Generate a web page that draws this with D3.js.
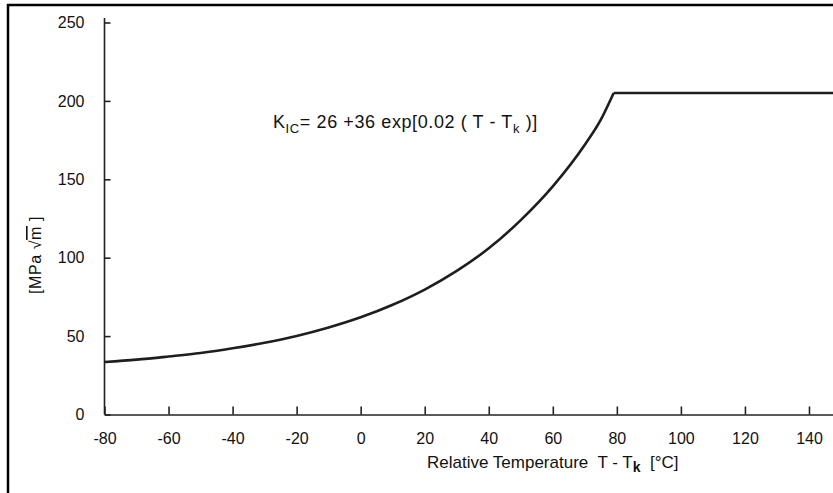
<!DOCTYPE html>
<html>
<head>
<meta charset="utf-8">
<script src="https://cdn.jsdelivr.net/npm/d3@7"></script>
<style>
  body { margin: 0; background: #fff; }
  svg { display: block; }
  text { font-family: "Liberation Sans", Arial, sans-serif; fill: #111; white-space: pre; }
</style>
</head>
<body>
<svg></svg>
<script>
// values (T - Tk in degC, KIC in MPa sqrt(m))
var temps = [-80, -70, -60, -50, -40, -30, -20, -10, 0, 10, 20, 30, 40, 50, 60, 70, 75, 79, 150]
var kic = [33.5, 35, 37, 39.2, 42.2, 45.8, 50.1, 55.5, 62, 70, 79.7, 91.6, 106, 124, 145.5, 172, 188, 205, 205]
var xTicks = [-80, -60, -40, -20, 0, 20, 40, 60, 80, 100, 120, 140]
var yTicks = [0, 50, 100, 150, 200, 250]
var kneeIndex = 17 // where the curve meets the flat upper shelf

var screen = {width: 833, height: 493}
var plot = {left: 104.5, right: 833, top: 18, bottom: 414.5}

var svg = d3.select("svg")
    .attr("width", screen.width)
    .attr("height", screen.height)

// frame of the scan (left and top only)
svg.append("line").attr("x1", 8).attr("x2", 8).attr("y1", 4).attr("y2", screen.height)
    .attr("stroke", "#000").attr("stroke-width", 2.5)
svg.append("line").attr("x1", 7).attr("x2", screen.width).attr("y1", 5).attr("y2", 5)
    .attr("stroke", "#000").attr("stroke-width", 2.5)

var xScale = d3.scaleLinear()
    .domain([-80, 147.5])
    .range([plot.left, plot.right])

var yScale = d3.scaleLinear()
    .domain([0, 250])
    .range([plot.bottom, 22.5])

var xAxis = d3.axisBottom(xScale)
    .tickValues(xTicks)
    .tickSizeInner(-8)
    .tickSizeOuter(0)
    .tickPadding(18)
    .tickFormat(function (d) { return String(d) })  // plain hyphen, not unicode minus

var yAxis = d3.axisLeft(yScale)
    .tickValues(yTicks)
    .tickSizeInner(-6)
    .tickSizeOuter(0)
    .tickPadding(20)

var gx = svg.append("g")
    .attr("transform", "translate(0," + plot.bottom + ")")
    .call(xAxis)

var gy = svg.append("g")
    .attr("transform", "translate(" + plot.left + ",0)")
    .call(yAxis)

// y axis line runs a bit above the top tick
gy.select(".domain").attr("d", "M0," + plot.top + "V" + plot.bottom)

svg.selectAll(".domain, .tick line")
    .attr("stroke", "#222")
    .attr("stroke-width", 1.6)
svg.selectAll(".tick text")
    .attr("font-size", 16)
    .attr("fill", "#111")
    .style("font-family", "'Liberation Sans', Arial, sans-serif")

// the curve: smooth part up to the knee, then straight shelf
var lineGenerator = d3.line()
    .x(function (d) { return xScale(temps[d]) })
    .y(function (d) { return yScale(kic[d]) })

var idx = d3.range(temps.length)
var curvePart = idx.slice(0, kneeIndex + 1)
var shelfPart = idx.slice(kneeIndex)

svg.append("path")
    .datum(curvePart)
    .attr("d", lineGenerator.curve(d3.curveMonotoneX))
    .attr("fill", "none")
    .attr("stroke", "#1e1e1e")
    .attr("stroke-width", 2.6)

svg.append("path")
    .datum(shelfPart)
    .attr("d", lineGenerator.curve(d3.curveLinear))
    .attr("fill", "none")
    .attr("stroke", "#1e1e1e")
    .attr("stroke-width", 2.6)

// formula label
var f = svg.append("text")
    .attr("x", 273).attr("y", 128)
    .attr("font-size", 18)
    .attr("letter-spacing", 0.6)
f.append("tspan").text("K")
f.append("tspan").attr("font-size", 13).attr("dy", 5).text("IC")
f.append("tspan").attr("dy", -5).text("= 26 +36 exp[0.02 ( T - T")
f.append("tspan").attr("font-size", 13).attr("dy", 5).text("k")
f.append("tspan").attr("dy", -5).text(" )]")

// x axis title
var xt = svg.append("text")
    .attr("x", 427).attr("y", 468)
    .attr("font-size", 17)
xt.append("tspan").text("Relative Temperature  T - T")
xt.append("tspan").attr("font-size", 14).attr("dy", 4).attr("font-weight", "bold").text("k")
xt.append("tspan").attr("dy", -4).text("  [°C]")

// y axis title
var yt = svg.append("text")
    .attr("transform", "translate(41,255) rotate(-90)")
    .attr("text-anchor", "middle")
    .attr("font-size", 16)
    .attr("letter-spacing", 0.6)
yt.append("tspan").text("[MPa √")
yt.append("tspan").style("text-decoration", "overline").text("m")
yt.append("tspan").text(" ]")
</script>
</body>
</html>
